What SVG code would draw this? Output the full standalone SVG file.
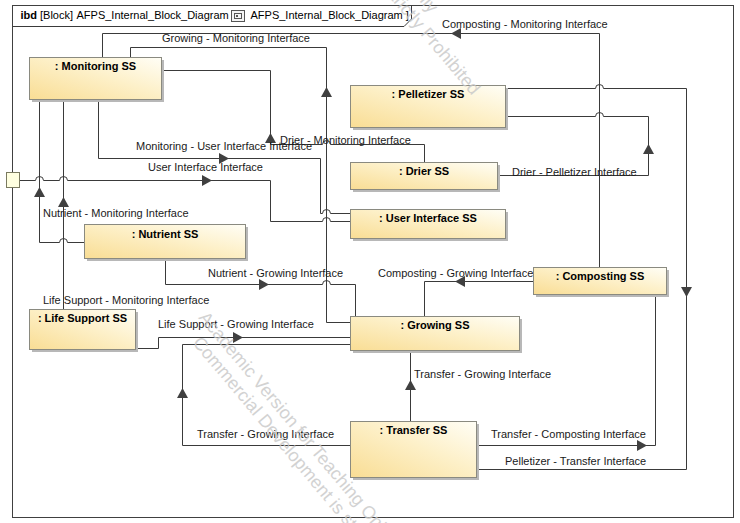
<svg xmlns="http://www.w3.org/2000/svg" xmlns:xlink="http://www.w3.org/1999/xlink" width="740" height="523" viewBox="0 0 740 523">
<style>
.frame{fill:#fff;stroke:#404040;stroke-width:1}
.ln{fill:none;stroke:#3a3a3a;stroke-width:1}
.ah{fill:#404040;stroke:none}
.nd{fill:url(#ng);stroke:#8a8a80;stroke-width:1}
.sh{fill:#b8b8b8}
.nt{font-family:"Liberation Sans",Arial,sans-serif;font-size:11px;font-weight:bold;text-anchor:middle;fill:#000}
.lb{font-family:"Liberation Sans",Arial,sans-serif;font-size:11px;fill:#1a1a1a}
.hd{font-family:"Liberation Sans",Arial,sans-serif;font-size:11px;fill:#000}
.wm{font-family:"Liberation Sans",Arial,sans-serif;font-size:18px;fill:#c8c8c8;opacity:0.8}
.port{fill:#ffffe0;stroke:#7a7a60;stroke-width:1}
</style>
<defs>
<linearGradient id="ng" x1="0" y1="1" x2="1" y2="0">
<stop offset="0" stop-color="#f9dd94"/>
<stop offset="0.55" stop-color="#fdf0c8"/>
<stop offset="1" stop-color="#fffef6"/>
</linearGradient>
<path id="arr" class="ah" d="M0,0 L-10,-5.5 L-10,5.5 Z"/>
</defs>
<rect width="740" height="523" fill="#fff"/>
<g id="frame">
<rect class="frame" x="12.5" y="5.5" width="721" height="512"/>
<path class="ln" d="M12.5,26.5 H404 L411.5,19 V5.5"/>
<text class="hd" x="20.5" y="19"><tspan font-weight="bold">ibd</tspan></text>
<text class="hd" x="40" y="19">[Block]</text>
<text class="hd" x="76.5" y="19">AFPS_Internal_Block_Diagram [</text>
<rect x="231.5" y="10.5" width="13" height="11" fill="#f4f4f4" stroke="#555"/>
<rect x="234.5" y="13.5" width="7" height="5" fill="none" stroke="#555"/>
<rect x="236" y="15" width="2" height="2" fill="#555"/>
<text class="hd" x="250.5" y="19">AFPS_Internal_Block_Diagram ]</text>
</g>
<g id="connectors">
<path class="ln" d="M102.5,57 V33.5 H599.5 V267"/>
<path class="ln" d="M130.5,57 V47.5 H326.5 V322.5 H350"/>
<path class="ln" d="M161,70.5 H270.5 V144.5 H322.5 A4,4 0 0 1 330.5,144.5 H424.5 V162"/>
<path class="ln" d="M98.5,99 V158.5 H320.5 V213.5 H322.5 A4,4 0 0 1 330.5,213.5 H350"/>
<path class="ln" d="M20,180.5 H35.5 A4,4 0 0 1 43.5,180.5 H59.5 A4,4 0 0 1 67.5,180.5 H270.5 V221.5 H322.5 A4,4 0 0 1 330.5,221.5 H350"/>
<path class="ln" d="M84,242.5 H67.5 A4,4 0 0 0 59.5,242.5 H39.5 V99"/>
<path class="ln" d="M63.5,309 V99"/>
<path class="ln" d="M165.5,258 V284.5 H322.5 A4,4 0 0 1 330.5,284.5 H355.5 V316"/>
<path class="ln" d="M135,348.5 H158.5 V337.5 H350"/>
<path class="ln" d="M350,445.5 H182.5 V344.5 H350"/>
<path class="ln" d="M410.5,421 V350"/>
<path class="ln" d="M533,281.5 H424.5 V316"/>
<path class="ln" d="M476,445.5 H655.5 V294"/>
<path class="ln" d="M505,88.5 H595.5 A4,4 0 0 1 603.5,88.5 H686.5 V469.5 H476"/>
<path class="ln" d="M505,116.5 H595.5 A4,4 0 0 1 603.5,116.5 H648.5 V175.5 H497"/>
<use xlink:href="#arr" transform="translate(451,33.5) rotate(180)"/>
<use xlink:href="#arr" transform="translate(326.5,87) rotate(-90)"/>
<use xlink:href="#arr" transform="translate(270.5,133) rotate(-90)"/>
<use xlink:href="#arr" transform="translate(229,158.5)"/>
<use xlink:href="#arr" transform="translate(212,180.5)"/>
<use xlink:href="#arr" transform="translate(39.5,187) rotate(-90)"/>
<use xlink:href="#arr" transform="translate(63.5,197) rotate(-90)"/>
<use xlink:href="#arr" transform="translate(269,284.5)"/>
<use xlink:href="#arr" transform="translate(243,337.5)"/>
<use xlink:href="#arr" transform="translate(182.5,388) rotate(-90)"/>
<use xlink:href="#arr" transform="translate(410.5,380) rotate(-90)"/>
<use xlink:href="#arr" transform="translate(455,281.5) rotate(180)"/>
<use xlink:href="#arr" transform="translate(647,445.5)"/>
<use xlink:href="#arr" transform="translate(686.5,297) rotate(90)"/>
<use xlink:href="#arr" transform="translate(648.5,144) rotate(-90)"/>
<text class="lb" x="442" y="28">Composting - Monitoring Interface</text>
<text class="lb" x="162" y="42">Growing - Monitoring Interface</text>
<text class="lb" x="280" y="143.5">Drier - Monitoring Interface</text>
<text class="lb" x="136" y="150">Monitoring - User Interface Interface</text>
<text class="lb" x="148" y="171">User Interface Interface</text>
<text class="lb" x="43" y="217">Nutrient - Monitoring Interface</text>
<text class="lb" x="512" y="175.5">Drier - Pelletizer Interface</text>
<text class="lb" x="208" y="276.5">Nutrient - Growing Interface</text>
<text class="lb" x="378" y="277">Composting - Growing Interface</text>
<text class="lb" x="43" y="304">Life Support - Monitoring Interface</text>
<text class="lb" x="158" y="328">Life Support - Growing Interface</text>
<text class="lb" x="414" y="377.5">Transfer - Growing Interface</text>
<text class="lb" x="197" y="437.5">Transfer - Growing Interface</text>
<text class="lb" x="491" y="437.5">Transfer - Composting Interface</text>
<text class="lb" x="505" y="465">Pelletizer - Transfer Interface</text>
</g>
<g id="port">
<rect class="port" x="6.5" y="172.5" width="13" height="15"/>
</g>
<g id="monitoring">
<rect class="sh" x="32" y="60" width="132" height="42"/>
<rect class="nd" x="29.5" y="57.5" width="132" height="42"/>
<text class="nt" x="95.5" y="70">: Monitoring SS</text>
</g>
<g id="pelletizer">
<rect class="sh" x="353" y="88" width="155" height="42"/>
<rect class="nd" x="350.5" y="85.5" width="155" height="42"/>
<text class="nt" x="428" y="98">: Pelletizer SS</text>
</g>
<g id="drier">
<rect class="sh" x="353" y="165" width="147" height="27"/>
<rect class="nd" x="350.5" y="162.5" width="147" height="27"/>
<text class="nt" x="424" y="174.5">: Drier SS</text>
</g>
<g id="userinterface">
<rect class="sh" x="353" y="212" width="155" height="29"/>
<rect class="nd" x="350.5" y="209.5" width="155" height="29"/>
<text class="nt" x="428" y="222">: User Interface SS</text>
</g>
<g id="nutrient">
<rect class="sh" x="87" y="227" width="161" height="34"/>
<rect class="nd" x="84.5" y="224.5" width="161" height="34"/>
<text class="nt" x="165" y="237.5">: Nutrient SS</text>
</g>
<g id="lifesupport">
<rect class="sh" x="32" y="312" width="106" height="40"/>
<rect class="nd" x="29.5" y="309.5" width="106" height="40"/>
<text class="nt" x="82.5" y="322">: Life Support SS</text>
</g>
<g id="composting">
<rect class="sh" x="536" y="270" width="133" height="27"/>
<rect class="nd" x="533.5" y="267.5" width="133" height="27"/>
<text class="nt" x="600" y="280">: Composting SS</text>
</g>
<g id="growing">
<rect class="sh" x="353" y="319" width="169" height="34"/>
<rect class="nd" x="350.5" y="316.5" width="169" height="34"/>
<text class="nt" x="435" y="329">: Growing SS</text>
</g>
<g id="transfer">
<rect class="sh" x="353" y="424" width="126" height="56"/>
<rect class="nd" x="350.5" y="421.5" width="126" height="56"/>
<text class="nt" x="413.5" y="434">: Transfer SS</text>
</g>
<g id="watermark">
<text class="wm" transform="translate(198,318) rotate(50)">Academic Version for Teaching Only</text>
<text class="wm" transform="translate(192,343) rotate(50)">Commercial Development is strictly Prohibited</text>
<text class="wm" text-anchor="end" transform="translate(430,14) rotate(50)">Academic Version for Teaching Only</text>
<text class="wm" text-anchor="end" transform="translate(472,96) rotate(50)">Commercial Development is strictly Prohibited</text>
</g>
</svg>
